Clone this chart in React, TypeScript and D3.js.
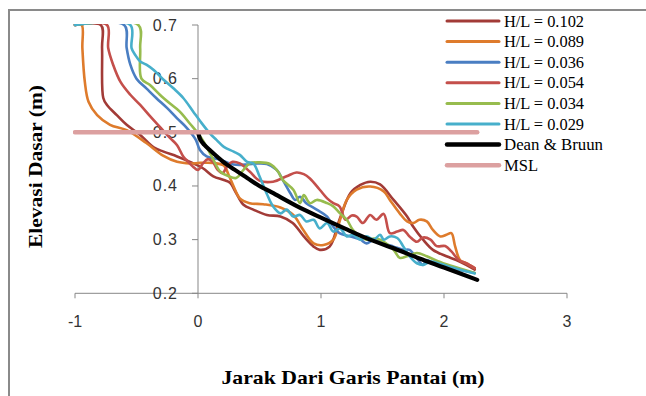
import { useEffect, useRef } from 'react';
import * as d3 from 'd3';

type Pt = [number, number];

// profil dasar per kecuraman gelombang (x = jarak, y = elevasi)
const hl0102: Pt[] = [
  [-1, 0.7], [-0.79, 0.7], [-0.78, 0.657], [-0.77, 0.564], [-0.74, 0.551], [-0.66, 0.532],
  [-0.58, 0.514], [-0.47, 0.495], [-0.36, 0.472], [-0.28, 0.464], [-0.17, 0.455], [-0.065, 0.445],
  [0.04, 0.433], [0.125, 0.418], [0.21, 0.411], [0.26, 0.406], [0.31, 0.387], [0.37, 0.365],
  [0.45, 0.356], [0.56, 0.346], [0.67, 0.343], [0.77, 0.331], [0.86, 0.306], [0.94, 0.287],
  [0.99, 0.281], [1.07, 0.287], [1.15, 0.337], [1.24, 0.387], [1.32, 0.402], [1.4, 0.408],
  [1.48, 0.403], [1.59, 0.374], [1.7, 0.343], [1.75, 0.324], [1.83, 0.3], [1.91, 0.281],
  [2.02, 0.269], [2.1, 0.262], [2.18, 0.253], [2.25, 0.244],
];

const hl0089: Pt[] = [
  [-1, 0.7], [-0.946, 0.7], [-0.94, 0.657], [-0.92, 0.594], [-0.89, 0.557], [-0.82, 0.532],
  [-0.715, 0.514], [-0.58, 0.504], [-0.42, 0.48], [-0.28, 0.456], [-0.17, 0.445], [-0.065, 0.442],
  [0.016, 0.443], [0.12, 0.443], [0.21, 0.438], [0.25, 0.42], [0.29, 0.399], [0.34, 0.377],
  [0.42, 0.368], [0.53, 0.366], [0.67, 0.36], [0.775, 0.346], [0.856, 0.318], [0.94, 0.293],
  [1.02, 0.29], [1.1, 0.3], [1.155, 0.337], [1.21, 0.374], [1.29, 0.393], [1.4, 0.399],
  [1.51, 0.39], [1.56, 0.374], [1.64, 0.349], [1.7, 0.334], [1.75, 0.331], [1.8, 0.337],
  [1.86, 0.334], [1.91, 0.318], [1.97, 0.306], [2.02, 0.309], [2.06, 0.312], [2.09, 0.288],
  [2.13, 0.262], [2.18, 0.256], [2.25, 0.247],
];

const hl0036: Pt[] = [
  [-1, 0.7], [-0.6, 0.7], [-0.58, 0.657], [-0.55, 0.626], [-0.5, 0.6], [-0.42, 0.582],
  [-0.34, 0.564], [-0.25, 0.545], [-0.17, 0.526], [-0.09, 0.508], [-0.02, 0.487], [0.016, 0.467],
  [0.07, 0.455], [0.18, 0.449], [0.29, 0.44], [0.4, 0.44], [0.48, 0.442], [0.56, 0.441],
  [0.64, 0.43], [0.69, 0.411], [0.75, 0.387], [0.79, 0.374], [0.83, 0.38], [0.88, 0.368],
  [0.965, 0.356], [1.05, 0.343], [1.1, 0.324], [1.15, 0.312], [1.24, 0.306], [1.32, 0.3],
  [1.37, 0.293], [1.43, 0.3], [1.51, 0.293], [1.59, 0.287], [1.67, 0.281], [1.72, 0.281],
  [1.78, 0.265], [1.83, 0.253], [1.86, 0.262], [1.92, 0.255], [2.0, 0.25], [2.1, 0.245],
  [2.25, 0.238],
];

const hl0054: Pt[] = [
  [-1, 0.7], [-0.74, 0.7], [-0.73, 0.657], [-0.69, 0.626], [-0.63, 0.594], [-0.55, 0.57],
  [-0.47, 0.551], [-0.39, 0.53], [-0.31, 0.51], [-0.23, 0.49], [-0.17, 0.476], [-0.12, 0.455],
  [-0.08, 0.445], [-0.04, 0.436], [0.0, 0.43], [0.04, 0.442], [0.08, 0.45], [0.12, 0.445],
  [0.16, 0.43], [0.2, 0.424], [0.24, 0.438], [0.28, 0.445], [0.34, 0.442], [0.42, 0.427],
  [0.5, 0.41], [0.61, 0.408], [0.72, 0.418], [0.8, 0.425], [0.86, 0.422], [0.91, 0.414],
  [0.99, 0.393], [1.05, 0.377], [1.1, 0.368], [1.15, 0.362], [1.2, 0.337], [1.25, 0.345],
  [1.29, 0.343], [1.34, 0.331], [1.4, 0.346], [1.45, 0.337], [1.51, 0.348], [1.56, 0.312],
  [1.62, 0.315], [1.67, 0.318], [1.72, 0.306], [1.78, 0.296], [1.83, 0.304], [1.89, 0.3],
  [1.94, 0.288], [2.01, 0.288], [2.06, 0.278], [2.12, 0.262], [2.18, 0.256], [2.25, 0.247],
];

const hl0034: Pt[] = [
  [-1, 0.7], [-0.485, 0.7], [-0.47, 0.657], [-0.46, 0.6], [-0.39, 0.588], [-0.31, 0.57],
  [-0.23, 0.554], [-0.15, 0.539], [-0.065, 0.516], [0.016, 0.493], [0.084, 0.467], [0.125, 0.449],
  [0.18, 0.427], [0.25, 0.418], [0.31, 0.415], [0.37, 0.43], [0.42, 0.442], [0.5, 0.444],
  [0.585, 0.441], [0.65, 0.427], [0.69, 0.411], [0.775, 0.393], [0.83, 0.368], [0.86, 0.383],
  [0.91, 0.368], [0.965, 0.374], [1.05, 0.368], [1.1, 0.362], [1.155, 0.349], [1.21, 0.337],
  [1.26, 0.318], [1.32, 0.306], [1.37, 0.3], [1.43, 0.302], [1.48, 0.3], [1.59, 0.281],
  [1.64, 0.266], [1.7, 0.269], [1.78, 0.275], [1.86, 0.269], [1.95, 0.26], [2.05, 0.252],
  [2.15, 0.245], [2.25, 0.238],
];

const hl0029: Pt[] = [
  [-1, 0.7], [-0.55, 0.7], [-0.54, 0.657], [-0.51, 0.644], [-0.47, 0.632], [-0.42, 0.626],
  [-0.36, 0.616], [-0.28, 0.598], [-0.2, 0.582], [-0.12, 0.564], [-0.04, 0.539], [0.02, 0.52],
  [0.1, 0.497], [0.15, 0.486], [0.21, 0.473], [0.29, 0.464], [0.34, 0.458], [0.4, 0.445],
  [0.45, 0.442], [0.5, 0.418], [0.56, 0.385], [0.61, 0.362], [0.67, 0.349], [0.72, 0.356],
  [0.775, 0.343], [0.83, 0.346], [0.88, 0.334], [0.94, 0.337], [0.99, 0.321], [1.05, 0.331],
  [1.1, 0.315], [1.155, 0.321], [1.21, 0.306], [1.26, 0.309], [1.32, 0.3], [1.37, 0.306],
  [1.43, 0.3], [1.48, 0.309], [1.51, 0.3], [1.56, 0.306], [1.62, 0.303], [1.67, 0.287],
  [1.72, 0.269], [1.78, 0.256], [1.83, 0.253], [1.89, 0.259], [1.97, 0.255], [2.08, 0.247],
  [2.25, 0.237],
];

const deanBruun: Pt[] = [
  [0, 0.5], [0.02, 0.486], [0.05, 0.477], [0.1, 0.466], [0.2, 0.446], [0.3, 0.43], [0.4, 0.415],
  [0.5, 0.4], [0.6, 0.388], [0.8, 0.363], [1.0, 0.341], [1.2, 0.32], [1.4, 0.3], [1.6, 0.283],
  [1.8, 0.265], [2.0, 0.248], [2.27, 0.225],
];

const msl: Pt[] = [[-1, 0.5], [2.27, 0.5]];

const seriesNames = ['H/L = 0.102', 'H/L = 0.089', 'H/L = 0.036', 'H/L = 0.054', 'H/L = 0.034', 'H/L = 0.029', 'Dean & Bruun', 'MSL'];
const seriesData = [hl0102, hl0089, hl0036, hl0054, hl0034, hl0029, deanBruun, msl];
const seriesColors = ['#A23B37', '#DE7B2C', '#4A7EC2', '#C44F4B', '#97BC4E', '#47AFCB', '#000000', '#DCA0A0'];
const seriesWidths = [2.6, 2.6, 2.6, 2.6, 2.6, 2.6, 4.2, 4.5];
const legendWidths = [80, 80, 80, 80, 80, 80, 99, 34];

const xTicks = [-1, 0, 1, 2, 3];
const yTicks = [0.2, 0.3, 0.4, 0.5, 0.6, 0.7];

export default function App() {
  const svgRef = useRef<SVGSVGElement>(null);
  const width = 646;
  const height = 396;

  useEffect(() => {
    if (!svgRef.current) return;
    const svg = d3.select(svgRef.current);
    svg.selectAll('*').remove();

    const xScale = d3.scaleLinear().domain([-1, 3]).range([75, 567]);
    const yScale = d3.scaleLinear().domain([0.2, 0.7]).range([293.3, 25]);
    const axisColor = '#878787';

    svg.append('rect').attr('width', width).attr('height', height).attr('fill', '#fff');

    // bingkai luar grafik
    svg.append('rect')
      .attr('x', 9).attr('y', 10)
      .attr('width', 900).attr('height', 600)
      .attr('fill', 'none')
      .attr('stroke', '#8a8a8a')
      .attr('stroke-width', 2);

    svg.append('defs').append('clipPath').attr('id', 'plot-clip')
      .append('rect')
      .attr('x', xScale(-1) - 2).attr('y', yScale(0.7) - 1)
      .attr('width', xScale(3) - xScale(-1) + 4)
      .attr('height', yScale(0.2) - yScale(0.7) + 2);

    // sumbu
    const axes = svg.append('g');
    axes.append('line')
      .attr('x1', xScale(-1)).attr('x2', xScale(3))
      .attr('y1', yScale(0.2)).attr('y2', yScale(0.2))
      .attr('stroke', axisColor);
    axes.append('line')
      .attr('x1', xScale(0)).attr('x2', xScale(0))
      .attr('y1', yScale(0.7)).attr('y2', yScale(0.2))
      .attr('stroke', axisColor);

    axes.selectAll('.xtick')
      .data(xTicks)
      .enter()
      .append('line')
      .attr('x1', d => xScale(d)).attr('x2', d => xScale(d))
      .attr('y1', yScale(0.2)).attr('y2', yScale(0.2) + 5)
      .attr('stroke', axisColor);

    axes.selectAll('.ytick')
      .data(yTicks)
      .enter()
      .append('line')
      .attr('x1', xScale(0) - 6).attr('x2', xScale(0))
      .attr('y1', d => yScale(d)).attr('y2', d => yScale(d))
      .attr('stroke', axisColor);

    const tickFont = "'Liberation Sans', Arial, sans-serif";
    axes.selectAll('.xlabel')
      .data(xTicks)
      .enter()
      .append('text')
      .attr('x', d => xScale(d))
      .attr('y', 327)
      .attr('text-anchor', 'middle')
      .attr('font-family', tickFont)
      .attr('font-size', '16px')
      .attr('fill', '#333')
      .text(d => `${d}`);

    axes.selectAll('.ylabel')
      .data(yTicks)
      .enter()
      .append('text')
      .attr('x', 178)
      .attr('y', d => yScale(d) + 5.5)
      .attr('text-anchor', 'end')
      .attr('font-family', tickFont)
      .attr('font-size', '16px')
      .attr('letter-spacing', '1px')
      .attr('fill', '#333')
      .text(d => d3.format('.1f')(d));

    // garis data
    const line = d3.line<Pt>()
      .x(d => xScale(d[0]))
      .y(d => yScale(d[1]))
      .curve(d3.curveCatmullRom.alpha(0.5));

    const plot = svg.append('g').attr('clip-path', 'url(#plot-clip)');
    seriesData.forEach((data, i) => {
      plot.append('path')
        .datum(data)
        .attr('fill', 'none')
        .attr('stroke', seriesColors[i])
        .attr('stroke-width', seriesWidths[i])
        .attr('stroke-linejoin', 'round')
        .attr('stroke-linecap', 'round')
        .attr('d', line);
    });

    // legenda
    const legend = svg.append('g');
    seriesNames.forEach((name, i) => {
      const cy = 21 + i * 20.6;
      legend.append('line')
        .attr('x1', 447).attr('x2', 499)
        .attr('y1', cy).attr('y2', cy)
        .attr('stroke', seriesColors[i])
        .attr('stroke-width', i >= 6 ? 4.5 : 3)
        .attr('stroke-linecap', 'round');
      legend.append('text')
        .attr('x', 504)
        .attr('y', cy + 5.5)
        .attr('font-family', "'Liberation Serif', 'Times New Roman', serif")
        .attr('font-size', '16px')
        .attr('textLength', legendWidths[i])
        .attr('lengthAdjust', 'spacingAndGlyphs')
        .attr('fill', '#000')
        .text(name);
    });

    // judul sumbu
    svg.append('text')
      .attr('x', 353)
      .attr('y', 384)
      .attr('text-anchor', 'middle')
      .attr('font-family', "'Liberation Serif', 'Times New Roman', serif")
      .attr('font-weight', 'bold')
      .attr('font-size', '19px')
      .attr('textLength', 263)
      .attr('lengthAdjust', 'spacingAndGlyphs')
      .text('Jarak Dari Garis Pantai (m)');

    svg.append('text')
      .attr('transform', 'translate(42,166.5) rotate(-90)')
      .attr('text-anchor', 'middle')
      .attr('font-family', "'Liberation Serif', 'Times New Roman', serif")
      .attr('font-weight', 'bold')
      .attr('font-size', '19px')
      .attr('textLength', 163)
      .attr('lengthAdjust', 'spacingAndGlyphs')
      .text('Elevasi Dasar (m)');
  }, []);

  return (
    <svg
      ref={svgRef}
      width={width}
      height={height}
      style={{ position: 'absolute', left: 0, top: 0 }}
    />
  );
}
